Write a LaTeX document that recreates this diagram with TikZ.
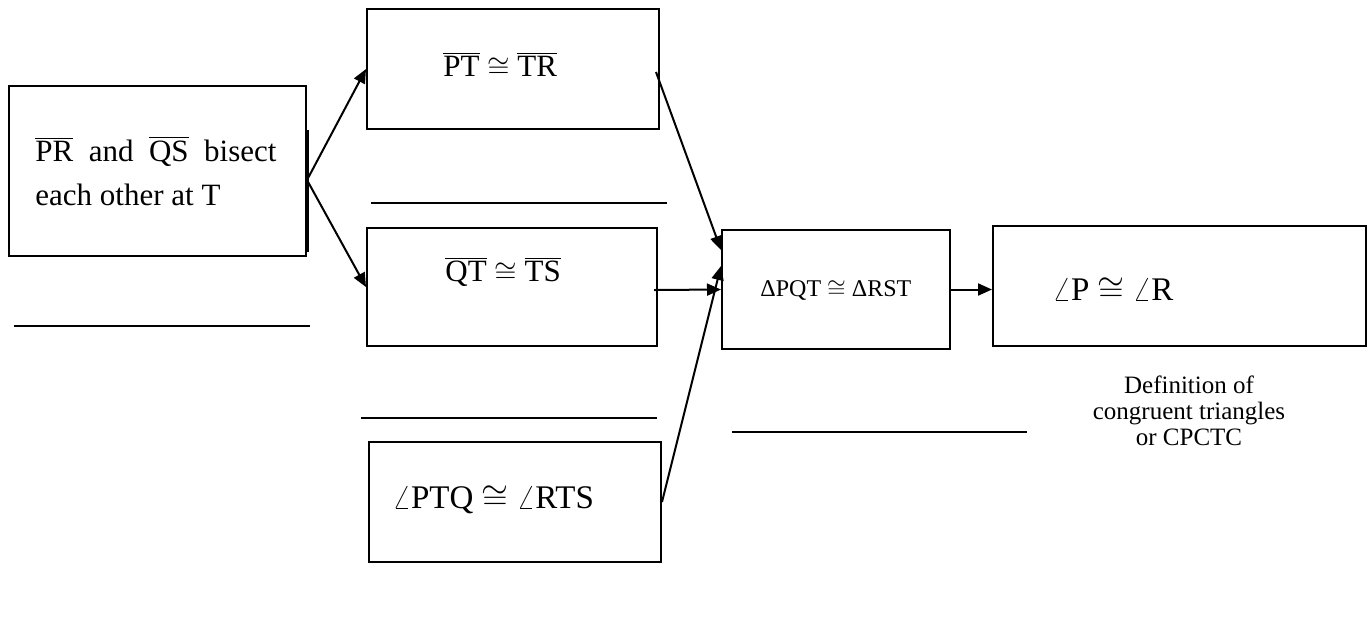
\documentclass[tikz,border=0pt]{standalone}
\usepackage{fontspec}
\setmainfont{Liberation Serif}
\usetikzlibrary{arrows.meta}
\newcommand{\seg}[1]{$\overline{\hbox{#1}}$}
\newcommand{\cng}{$\cong$}
\newcommand{\ang}{$\angle$}

\begin{document}
\begin{tikzpicture}[x=0.5pt, y=-0.5pt,
			stmt/.style={rectangle, draw, line width=1pt, inner sep=0pt},
			words/.style={inner sep=0pt, font=\fontsize{15.5}{22}\selectfont},
			small/.style={inner sep=0pt, font=\fontsize{12}{14}\selectfont},
			big/.style={inner sep=0pt, font=\fontsize{16.5}{20}\selectfont},
			reason/.style={inner sep=0pt, align=center, font=\fontsize{12.5}{13}\selectfont},
			blank/.style={line width=1pt},
			link/.style={line width=1pt, -{Triangle[length=7pt, width=6pt]}},
			]
			\useasboundingbox (0,0) rectangle (1369,634);
			%Boxes
				\node[stmt, minimum width=148.5pt, minimum height=85pt]		(given)		at (157.5,171)	{};
				\node[stmt, minimum width=146pt, minimum height=60pt]		(pt-tr)		at (513,69)		{};
				\node[stmt, minimum width=145pt, minimum height=59pt]		(qt-ts)		at (512,287)	{};
				\node[stmt, minimum width=146pt, minimum height=60pt]		(ptq-rts)	at (515,502)	{};
				\node[stmt, minimum width=114pt, minimum height=59.5pt]	(pqt-rst)	at (836,289.5)	{};
				\node[stmt, minimum width=186.5pt, minimum height=60pt]	(p-r)		at (1179.5,286)	{};
			%Texts
				\node[words, anchor=west, align=left]	(given-t)	at (35,171)		{\seg{PR}\ \ and\ \ \seg{QS}\ \ bisect\\each other at T};
				\node[words, anchor=west]				(pt-tr-t)	at (443,65)		{\seg{PT} \cng{} \seg{TR}};
				\node[words, anchor=west]				(qt-ts-t)	at (445,272)	{\seg{QT} \cng{} \seg{TS}};
				\node[big, anchor=west]					(ptq-rts-t)	at (392,500)	{\ang PTQ \cng{} \ang RTS};
				\node[small, anchor=west]				(pqt-rst-t)	at (760,290)	{ΔPQT \cng{} ΔRST};
				\node[big, anchor=west]					(p-r-t)		at (1052,290)	{\ang P \cng{} \ang R};
				\node[reason]							(why)		at (1189,411)	{Definition of\\congruent triangles\\or CPCTC};

			%Blanks
				\draw[blank] (14,326) -- (310,326);
				\draw[blank] (371,203) -- (667,203);
				\draw[blank] (361,418) -- (657,418);
				\draw[blank] (732,432) -- (1027,432);
				\draw[line width=1.5pt] (307.5,130) -- (307.5,252);

			%Lines
				\draw[link] ([yshift=-4.5pt]given.east) -- (pt-tr.west);
				\draw[link] ([yshift=-4.5pt]given.east) -- (qt-ts.west);
				\draw[link] ([xshift=-2pt,yshift=-1.5pt]pt-tr.east) -- ([yshift=19.75pt]pqt-rst.west);
				\draw[link] ([xshift=-2pt,yshift=-1.5pt]qt-ts.east) -- (pqt-rst.west);
				\draw[link] (ptq-rts.east) -- ([yshift=11.75pt]pqt-rst.west);
				\draw[link] (pqt-rst.east) -- (pqt-rst.east -| p-r.west);
		\end{tikzpicture}
\end{document}
